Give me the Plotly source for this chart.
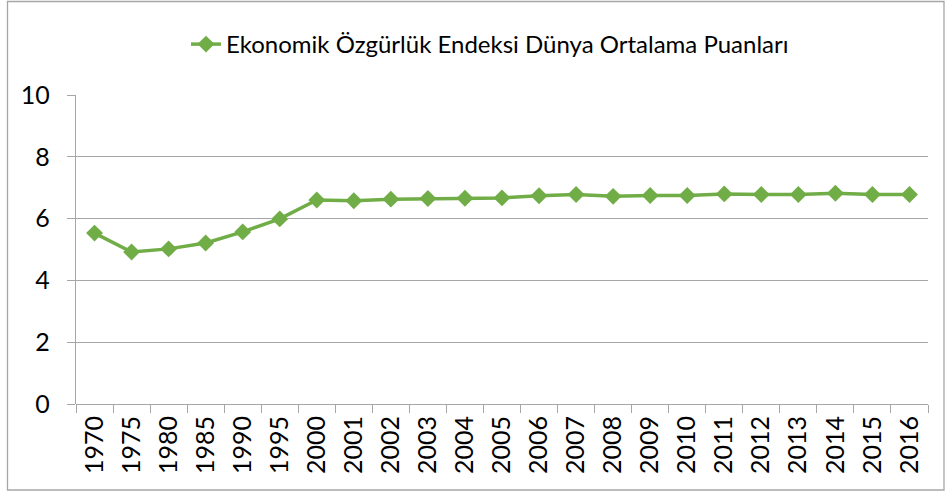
import plotly.graph_objects as go

years = ["1970", "1975", "1980", "1985", "1990", "1995", "2000", "2001", "2002", "2003",
         "2004", "2005", "2006", "2007", "2008", "2009", "2010", "2011", "2012", "2013",
         "2014", "2015", "2016"]
scores = [5.53, 4.92, 5.02, 5.21, 5.57, 5.99, 6.60, 6.58, 6.63, 6.65,
          6.66, 6.67, 6.74, 6.78, 6.72, 6.75, 6.75, 6.80, 6.78, 6.78,
          6.82, 6.78, 6.78]
series_name = "Ekonomik Özgürlük Endeksi Dünya Ortalama Puanları"

W, H = 945, 492
L, R, T, B = 76, 17, 95, 88
pw, ph = W - L - R, H - T - B

fig = go.Figure()
fig.add_trace(go.Scatter(
    x=years, y=scores, mode="lines+markers", name=series_name,
    line=dict(color="#70AD47", width=3.5),
    marker=dict(symbol="diamond", size=13, color="#70AD47"),
))

def px_x(p):
    return (p - L) / pw

def px_y(p):
    return (H - B - p) / ph

fig.add_shape(type="rect", xref="paper", yref="paper",
              x0=px_x(7.5), x1=px_x(944), y0=px_y(490), y1=px_y(1.5),
              line=dict(color="#A6A6A6", width=1.3), fillcolor="rgba(0,0,0,0)", layer="below")

fig.update_layout(
    width=W, height=H,
    margin=dict(l=L, r=R, t=T, b=B),
    plot_bgcolor="white", paper_bgcolor="white",
    font=dict(family="Lato, 'Noto Sans', sans-serif", size=24, color="#000000"),
    showlegend=True,
    legend=dict(orientation="h", x=px_x(186), xanchor="left", y=px_y(22), yanchor="top",
                font=dict(size=24), itemwidth=30, bgcolor="rgba(0,0,0,0)"),
    xaxis=dict(type="category", range=[-0.5, len(years) - 0.5], tickangle=-90,
               showgrid=False, showline=False,
               ticks="outside", ticklen=8, tickcolor="#A6A6A6", tickson="boundaries",
               ticklabelstandoff=6,
               tickfont=dict(size=25), zeroline=False, fixedrange=True),
    yaxis=dict(range=[0, 10], dtick=2, tick0=0, showgrid=True, gridcolor="#A6A6A6", gridwidth=1.3,
               showline=True, linecolor="#A6A6A6", linewidth=1.3,
               ticks="outside", ticklen=8, tickcolor="#A6A6A6", ticklabelstandoff=12,
               zeroline=True, zerolinecolor="#A6A6A6", zerolinewidth=1.3,
               tickfont=dict(size=25), fixedrange=True),
)

fig.write_html("out.html", config={"displayModeBar": False},
               post_script="document.body.style.margin='0';")
